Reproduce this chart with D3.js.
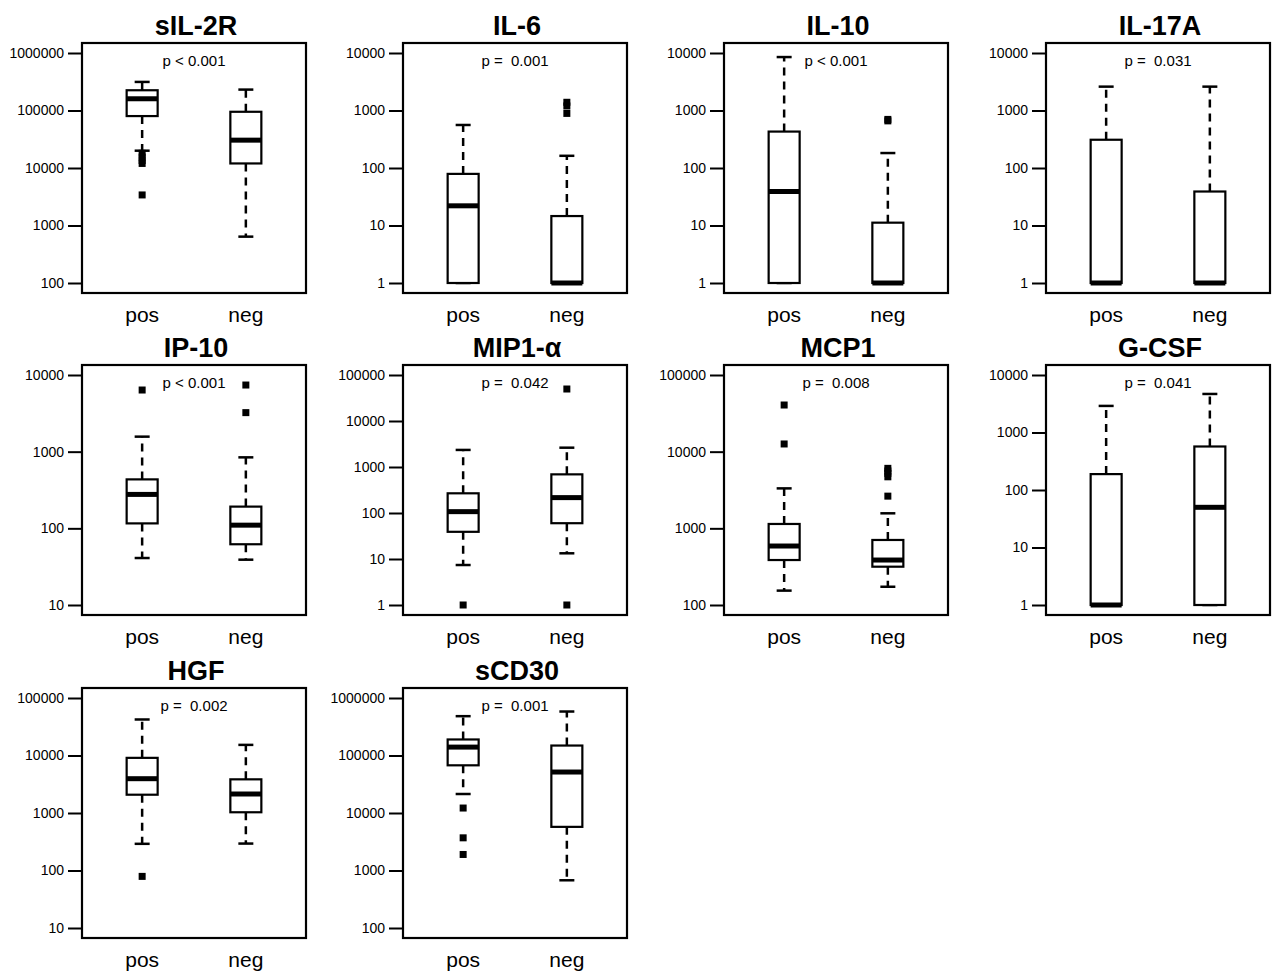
<!DOCTYPE html>
<html><head><meta charset="utf-8">
<script src="https://cdn.jsdelivr.net/npm/d3@7"></script>
<style>body{margin:0;background:#fff}</style>
</head><body>
<svg id="chart" width="1280" height="979"></svg>
<script>
// ---- data ----
const panelTitles = ["sIL-2R","IL-6","IL-10","IL-17A","IP-10","MIP1-\u03b1","MCP1","G-CSF","HGF","sCD30"];
const pTexts = ["p < 0.001","p =  0.001","p < 0.001","p =  0.031","p < 0.001","p =  0.042","p =  0.008","p =  0.041","p =  0.002","p =  0.001"];
const groups = ["pos","neg"];
const axisLow  = [100, 1, 1, 1, 10, 1, 100, 1, 10, 100];
const axisHigh = [1e6, 1e4, 1e4, 1e4, 1e4, 1e5, 1e5, 1e4, 1e5, 1e6];
// [lower whisker, Q1, median, Q3, upper whisker]
const posStats = [
  [20000, 80000, 160000, 225000, 314000],
  [1, 1, 22, 79, 560],
  [1, 1, 39, 430, 8500],
  [1, 1, 1, 310, 2600],
  [41, 116, 277, 435, 1570],
  [7.4, 39, 107, 268, 2350],
  [154, 386, 588, 1140, 3320],
  [1, 1, 1, 189, 2900],
  [291, 2080, 3950, 9100, 42300],
  [21400, 67500, 140000, 190000, 483000]
];
const negStats = [
  [640, 12000, 30500, 95000, 231000],
  [1, 1, 1, 14.6, 163],
  [1, 1, 1, 11.2, 182],
  [1, 1, 1, 39, 2600],
  [39, 62, 110, 192, 843],
  [13.3, 60, 216, 692, 2630],
  [173, 316, 386, 705, 1570],
  [1, 1, 50, 571, 4680],
  [294, 1030, 2140, 3850, 15300],
  [676, 5740, 51600, 149000, 582000]
];
const posOutliers = [
  [18000, 15500, 13500, 12000, 3400],
  [], [], [],
  [6370],
  [1],
  [40600, 12600],
  [],
  [79],
  [12200, 3700, 1900]
];
const negOutliers = [
  [],
  [1390, 1200, 890],
  [700, 660],
  [],
  [7400, 3230],
  [49600, 1],
  [6060, 5600, 5210, 4700, 2630],
  [], [], []
];

// ---- layout ----
const colX = [82, 403, 724, 1046];
const rowY = [43, 365, 688];
const W = 224, H = 250;

const svg = d3.select("#chart");
svg.append("rect").attr("width",1280).attr("height",979).attr("fill","#fff");

panelTitles.forEach((title, i) => {
  const g = svg.append("g")
    .attr("transform", `translate(${colX[i % 4]},${rowY[Math.floor(i / 4)]})`);
  const y = d3.scaleLog().domain([axisLow[i], axisHigh[i]]).range([H - 10, 10]);
  const x = d3.scaleLinear().domain([0.42, 2.58]).range([0, W]);
  const tickVals = [];
  for (let v = axisLow[i]; v <= axisHigh[i] * 1.001; v *= 10) tickVals.push(v);

  const ax = g.append("g").call(
    d3.axisLeft(y).tickValues(tickVals).tickFormat(d3.format("d")).tickSize(14).tickPadding(4)
  );
  ax.select(".domain").remove();
  ax.selectAll(".tick line").attr("stroke","#000").attr("stroke-width",2);
  ax.selectAll(".tick text").attr("fill","#000")
    .style("font-family","Liberation Sans, Arial, sans-serif").style("font-size","14px");

  const stats = [posStats[i], negStats[i]];
  const outs = [posOutliers[i], negOutliers[i]];
  const hw = 15.5, cw = 7.5;
  stats.forEach((s, k) => {
    const cx = x(k + 1);
    // whiskers
    g.append("line").attr("x1",cx).attr("x2",cx).attr("y1",y(s[3])).attr("y2",y(s[4]))
      .attr("stroke","#000").attr("stroke-width",2.5).attr("stroke-dasharray","8,6");
    g.append("line").attr("x1",cx).attr("x2",cx).attr("y1",y(s[1])).attr("y2",y(s[0]))
      .attr("stroke","#000").attr("stroke-width",2.5).attr("stroke-dasharray","8,6");
    // caps
    [s[0], s[4]].forEach(v => {
      g.append("line").attr("x1",cx - cw).attr("x2",cx + cw).attr("y1",y(v)).attr("y2",y(v))
        .attr("stroke","#000").attr("stroke-width",2.5);
    });
    // box
    g.append("rect").attr("x",cx - hw).attr("width",hw * 2)
      .attr("y",y(s[3])).attr("height",Math.max(0, y(s[1]) - y(s[3])))
      .attr("fill","#fff").attr("stroke","#000").attr("stroke-width",2.2);
    // median
    g.append("line").attr("x1",cx - hw).attr("x2",cx + hw).attr("y1",y(s[2])).attr("y2",y(s[2]))
      .attr("stroke","#000").attr("stroke-width",5);
    // outliers
    g.selectAll(null).data(outs[k]).enter().append("rect")
      .attr("x",cx - 3.5).attr("y",d => y(d) - 3.5).attr("width",7).attr("height",7).attr("fill","#000");
    // group label
    g.append("text").attr("x",cx).attr("y",H + 28.5).attr("text-anchor","middle")
      .style("font-family","Liberation Sans, Arial, sans-serif").style("font-size","21px")
      .text(groups[k]);
  });

  // frame
  g.append("rect").attr("width",W).attr("height",H).attr("fill","none")
    .attr("stroke","#000").attr("stroke-width",2.2);
  // p text
  g.append("text").attr("x",W / 2).attr("y",22.5).attr("text-anchor","middle")
    .style("font-family","Liberation Sans, Arial, sans-serif").style("font-size","15px")
    .style("white-space","pre").text(pTexts[i]);
  // title
  g.append("text").attr("x",W / 2 + 2).attr("y",-8.5).attr("text-anchor","middle")
    .style("font-family","Liberation Sans, Arial, sans-serif").style("font-size","27px")
    .style("font-weight","bold").text(title);
});
</script>
</body></html>
